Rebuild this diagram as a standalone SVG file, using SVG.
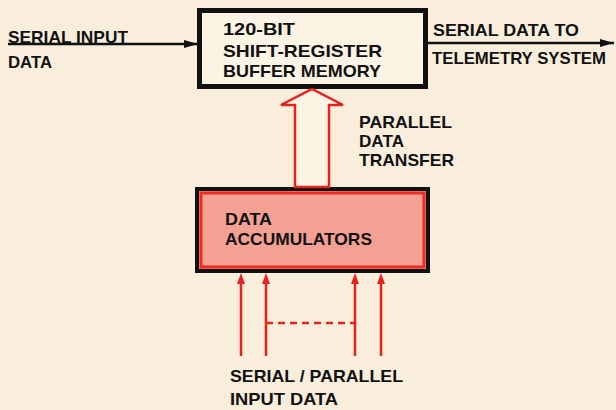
<svg xmlns="http://www.w3.org/2000/svg" width="616" height="410" viewBox="0 0 616 410">
<defs>
<style>
text{font-family:"Liberation Sans",Arial,sans-serif;font-size:17px;font-weight:bold;fill:#111;}
.blk{stroke:#111;stroke-width:2.5;fill:none;}
.red{stroke:#e5221d;stroke-width:2.5;fill:none;}
.rh{fill:#e5221d;}
</style>
<marker id="ab" viewBox="0 0 14 8" refX="14" refY="4" markerWidth="14" markerHeight="8" markerUnits="userSpaceOnUse" orient="auto">
<path d="M0,0 L14,4 L0,8 Z" fill="#111"/>
</marker>
</defs>
<rect width="616" height="410" fill="#f9eedb"/>
<g id="buffer">
<rect x="199.5" y="10.5" width="226" height="76" fill="#fbf3e3" stroke="#111" stroke-width="5"/>
<text x="223" y="35" textLength="72" lengthAdjust="spacingAndGlyphs">120-BIT</text>
<text x="223" y="57" textLength="159" lengthAdjust="spacingAndGlyphs">SHIFT-REGISTER</text>
<text x="223" y="77" textLength="158" lengthAdjust="spacingAndGlyphs">BUFFER MEMORY</text>
</g>
<g id="accumulators">
<rect x="197" y="189" width="231" height="82" fill="#f4a092" stroke="#111" stroke-width="4"/>
<rect x="201" y="193" width="223" height="74" fill="none" stroke="#ee2a22" stroke-width="3"/>
<text x="225" y="225" textLength="47" lengthAdjust="spacingAndGlyphs">DATA</text>
<text x="225" y="245" textLength="147" lengthAdjust="spacingAndGlyphs">ACCUMULATORS</text>
</g>
<g id="connectors">
<line class="blk" x1="8" y1="44" x2="198" y2="44" marker-end="url(#ab)"/>
<line class="blk" x1="428" y1="43" x2="614" y2="43" marker-end="url(#ab)"/>
<polygon points="295,187 295,105 281,105 312,89 343,105 329,105 329,187" fill="#fbf3e3" stroke="#e5221d" stroke-width="2.5"/>
<line class="red" x1="241" y1="356" x2="241" y2="280"/>
<line class="red" x1="266" y1="356" x2="266" y2="280"/>
<line class="red" x1="355" y1="356" x2="355" y2="280"/>
<line class="red" x1="381" y1="356" x2="381" y2="280"/>
<polygon class="rh" points="241,273 245,284 237,284"/>
<polygon class="rh" points="266,273 270,284 262,284"/>
<polygon class="rh" points="355,273 359,284 351,284"/>
<polygon class="rh" points="381,273 385,284 377,284"/>
<line class="red" x1="266" y1="323" x2="355" y2="323" stroke-dasharray="7,5"/>
</g>
<g id="labels">
<text x="8" y="43" textLength="120" lengthAdjust="spacingAndGlyphs">SERIAL INPUT</text>
<text x="8" y="68" textLength="44" lengthAdjust="spacingAndGlyphs">DATA</text>
<text x="433" y="36" textLength="146" lengthAdjust="spacingAndGlyphs">SERIAL DATA TO</text>
<text x="432" y="64" textLength="174" lengthAdjust="spacingAndGlyphs">TELEMETRY SYSTEM</text>
<text x="359" y="128" textLength="93" lengthAdjust="spacingAndGlyphs">PARALLEL</text>
<text x="359" y="147" textLength="45" lengthAdjust="spacingAndGlyphs">DATA</text>
<text x="359" y="166" textLength="95" lengthAdjust="spacingAndGlyphs">TRANSFER</text>
<text x="230" y="382" textLength="173" lengthAdjust="spacingAndGlyphs">SERIAL / PARALLEL</text>
<text x="230" y="405" textLength="108" lengthAdjust="spacingAndGlyphs">INPUT DATA</text>
</g>
</svg>
